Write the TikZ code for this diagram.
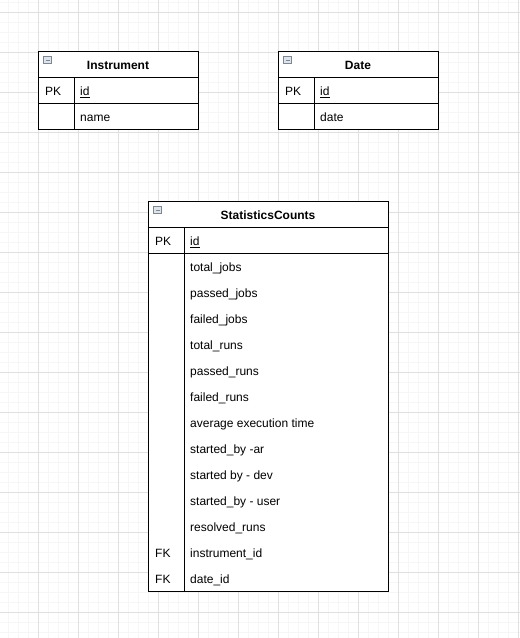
\documentclass[tikz,border=0pt]{standalone}
\usepackage{fontspec}
\setmainfont{Liberation Sans}
\usetikzlibrary{calc}
\definecolor{gridminor}{RGB}{246,246,246}
\definecolor{gridmajor}{RGB}{224,224,224}
\definecolor{iconedge}{RGB}{125,135,145}
\definecolor{iconfill}{RGB}{222,228,234}
\tikzset{
  tablebox/.style={draw=black,line width=1pt},
  headtext/.style={font=\bfseries\fontsize{12}{14}\selectfont,anchor=base,inner sep=0pt},
  keytext/.style={font=\fontsize{12}{14}\selectfont,anchor=base west,inner sep=0pt},
  fieldtext/.style={font=\fontsize{12}{14}\selectfont,anchor=base west,inner sep=0pt},
  collapse/.style={draw=iconedge,fill=iconfill,line width=0.8pt}
}
\begin{document}
\begin{tikzpicture}[x=1pt,y=-1pt]
  \useasboundingbox (0,0) rectangle (520,638);
  % background grid
  \fill[white] (0,0) rectangle (520,638);
  \foreach \gx in {8,18,...,518} \draw[gridminor,line width=1pt] (\gx,0) -- (\gx,638);
  \foreach \gy in {2,12,...,632} \draw[gridminor,line width=1pt] (0,\gy) -- (520,\gy);
  \foreach \gx in {38,78,...,518} \draw[gridmajor,line width=1pt] (\gx,0) -- (\gx,638);
  \foreach \gy in {12,52,...,612} \draw[gridmajor,line width=1pt] (0,\gy) -- (520,\gy);

  % Instrument
  \draw[tablebox,fill=white] (38.5,51.5) rectangle (198.5,129.5);
  \draw[tablebox] (38.5,77.5) -- (198.5,77.5);
  \draw[tablebox] (38.5,103.5) -- (198.5,103.5);
  \draw[tablebox] (74.5,77.5) -- (74.5,129.5);
  \draw[collapse] (43.5,56.5) rectangle (51.5,63.5);
  \draw[iconedge,line width=1pt] (45.5,60) -- (49.5,60);
  \node[headtext] (instr-title) at (118,69.5) {Instrument};
  \node[keytext] (instr-pk) at (45,95.5) {PK};
  \node[fieldtext] (instr-id) at (80,95.5) {\underline{id}};
  \node[fieldtext] (instr-name) at (80,121.5) {name};

  % Date
  \draw[tablebox,fill=white] (278.5,51.5) rectangle (438.5,129.5);
  \draw[tablebox] (278.5,77.5) -- (438.5,77.5);
  \draw[tablebox] (278.5,103.5) -- (438.5,103.5);
  \draw[tablebox] (314.5,77.5) -- (314.5,129.5);
  \draw[collapse] (283.5,56.5) rectangle (291.5,63.5);
  \draw[iconedge,line width=1pt] (285.5,60) -- (289.5,60);
  \node[headtext] (date-title) at (358,69.5) {Date};
  \node[keytext] (date-pk) at (285,95.5) {PK};
  \node[fieldtext] (date-id) at (320,95.5) {\underline{id}};
  \node[fieldtext] (date-date) at (320,121.5) {date};

  % StatisticsCounts
  \draw[tablebox,fill=white] (148.5,201.5) rectangle (388.5,591.5);
  \draw[tablebox] (148.5,227.5) -- (388.5,227.5);
  \draw[tablebox] (148.5,253.5) -- (388.5,253.5);
  \draw[tablebox] (184.5,227.5) -- (184.5,591.5);
  \draw[collapse] (153.5,206.5) rectangle (161.5,213.5);
  \draw[iconedge,line width=1pt] (155.5,210) -- (159.5,210);
  \node[headtext] (stats-title) at (268,219.5) {StatisticsCounts};
  \node[keytext] (stats-pk) at (155,245.5) {PK};
  \node[fieldtext] (stats-id) at (190,245.5) {\underline{id}};
  \foreach \fld [count=\i] in {total\_jobs,passed\_jobs,failed\_jobs,total\_runs,
      passed\_runs,failed\_runs,average execution time,started\_by -ar,
      started by - dev,started\_by - user,resolved\_runs,instrument\_id,date\_id}
    \node[fieldtext] (stats-f\i) at (190,245.5+26*\i) {\fld};
  \node[keytext] (stats-fk1) at (155,557.5) {FK};
  \node[keytext] (stats-fk2) at (155,583.5) {FK};
\end{tikzpicture}
\end{document}
